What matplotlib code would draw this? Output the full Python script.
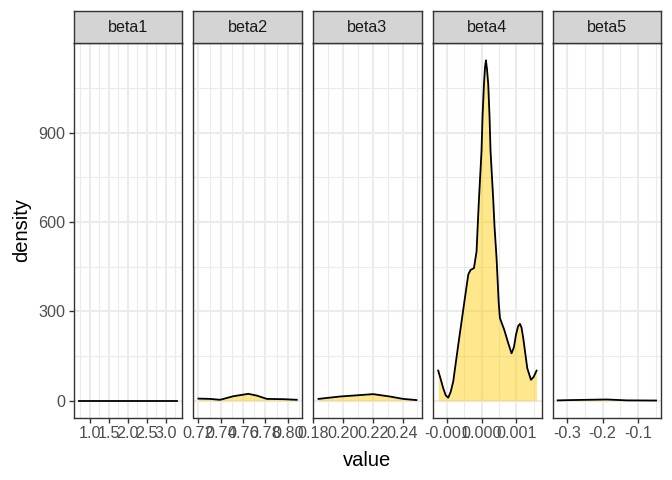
import numpy as np
import matplotlib
matplotlib.use("Agg")
import matplotlib.pyplot as plt
from matplotlib.ticker import FixedLocator, FixedFormatter

plt.rcParams['font.family'] = ['Liberation Sans', 'DejaVu Sans']
plt.rcParams['axes.unicode_minus'] = False

# density curves, one per parameter
panels = ["beta1", "beta2", "beta3", "beta4", "beta5"]

beta1_x = [0.71, 1.2, 1.8, 2.4, 3.0, 3.31]
beta1_y = [0.4, 0.4, 0.4, 0.4, 0.4, 0.4]

beta2_x = [0.720, 0.7305, 0.7394, 0.7513, 0.7647, 0.7723, 0.7812, 0.7961, 0.808]
beta2_y = [7, 6, 3, 15, 23, 17, 6, 5, 3]

beta3_x = [0.1834, 0.1979, 0.2091, 0.2202, 0.2314, 0.2403, 0.2493]
beta3_y = [6, 14, 18, 22, 14, 6, 2]

beta4_x = [-1.257e-3, -1.185e-3, -1.113e-3, -1.040e-3, -0.968e-3, -0.896e-3,
           -0.824e-3, -0.679e-3, -0.535e-3,
           -0.390e-3, -0.324e-3, -0.225e-3, -0.150e-3, -0.116e-3, -0.081e-3,
           -0.006e-3, 0.023e-3, 0.064e-3, 0.095e-3, 0.121e-3, 0.150e-3,
           0.188e-3, 0.225e-3,
           0.254e-3, 0.332e-3, 0.370e-3, 0.428e-3, 0.490e-3, 0.526e-3, 0.650e-3,
           0.760e-3, 0.861e-3, 0.930e-3, 0.988e-3, 1.050e-3, 1.104e-3, 1.150e-3,
           1.199e-3, 1.315e-3, 1.422e-3, 1.500e-3, 1.584e-3]
beta4_y = [101, 72, 42, 18, 10, 30,
           64, 187, 305,
           423, 439, 445, 501, 588, 675,
           839, 955, 1062, 1120, 1143, 1115,
           1062, 955,
           839, 675, 583, 479, 330, 277, 238,
           195, 159, 180, 221, 250, 258, 245,
           210, 109, 70, 80, 101]

beta5_x = [-0.326, -0.291, -0.240, -0.188, -0.132, -0.050]
beta5_y = [1, 2, 3, 4, 1, 0.5]

curves_x = [beta1_x, beta2_x, beta3_x, beta4_x, beta5_x]
curves_y = [beta1_y, beta2_y, beta3_y, beta4_y, beta5_y]

# tick labels per panel
major_ticks = [[1.0, 1.5, 2.0, 2.5, 3.0],
               [0.72, 0.74, 0.76, 0.78, 0.80],
               [0.18, 0.20, 0.22, 0.24],
               [-0.001, 0.000, 0.001],
               [-0.3, -0.2, -0.1]]
tick_labels = [["1.0", "1.5", "2.0", "2.5", "3.0"],
               ["0.72", "0.74", "0.76", "0.78", "0.80"],
               ["0.18", "0.20", "0.22", "0.24"],
               ["-0.001", "0.000", "0.001"],
               ["-0.3", "-0.2", "-0.1"]]
minor_ticks = [[0.75, 1.25, 1.75, 2.25, 2.75, 3.25],
               [0.73, 0.75, 0.77, 0.79, 0.81],
               [0.19, 0.21, 0.23, 0.25],
               [-0.0015, -0.0005, 0.0005, 0.0015],
               [-0.25, -0.15, -0.05]]

y_major = [0, 300, 600, 900]
y_minor = [150, 450, 750, 1050]

W, H = 672, 480
fig = plt.figure(figsize=(6.72, 4.8), dpi=100)

lefts = [74, 193.5, 313.3, 433.3, 552.8]
pw = 108.2
top, bottom, strip_top = 43.3, 417.7, 11

fill_col = (1.0, 0.80, 0.0, 0.45)
grid_col = "#EBEBEB"
border_col = "#333333"
text_col = "#4D4D4D"

ymax = max(max(y) for y in curves_y)
ylim = (-0.05 * ymax, 1.05 * ymax)

for i, name in enumerate(panels):
    x = np.array(curves_x[i])
    y = np.array(curves_y[i])
    ax = fig.add_axes([lefts[i] / W, 1 - bottom / H, pw / W, (bottom - top) / H])
    span = x.max() - x.min()
    ax.set_xlim(x.min() - 0.05 * span, x.max() + 0.05 * span)
    if i == 2:
        ax.set_xlim(0.1799, 0.2527)
    ax.set_ylim(*ylim)

    for v in minor_ticks[i]:
        ax.axvline(v, color=grid_col, lw=0.8, zorder=0)
    for v in major_ticks[i]:
        ax.axvline(v, color=grid_col, lw=1.5, zorder=0)
    for v in y_minor:
        ax.axhline(v, color=grid_col, lw=0.8, zorder=0)
    for v in y_major:
        ax.axhline(v, color=grid_col, lw=1.5, zorder=0)

    ax.fill_between(x, 0, y, color=fill_col, lw=0, zorder=1)
    ax.plot(x, y, color="black", lw=1.3, zorder=2, solid_joinstyle="round")

    ax.xaxis.set_major_locator(FixedLocator(major_ticks[i]))
    ax.xaxis.set_major_formatter(FixedFormatter(tick_labels[i]))
    ax.yaxis.set_major_locator(FixedLocator(y_major))
    ax.tick_params(axis="both", length=3.6, width=1.0, color=border_col,
                   labelsize=11.6, labelcolor=text_col, pad=2.5)
    if i == 0:
        ax.set_yticklabels([str(v) for v in y_major])
        ax.set_ylabel("density", fontsize=14.5, color="black", labelpad=5)
    else:
        ax.tick_params(axis="y", left=False, labelleft=False)
    for s in ax.spines.values():
        s.set_color(border_col)
        s.set_linewidth(1.0)
    ax.set_facecolor("white")

    sax = fig.add_axes([lefts[i] / W, 1 - top / H, pw / W, (top - strip_top) / H])
    sax.set_facecolor("#D4D4D4")
    sax.set_xticks([])
    sax.set_yticks([])
    for s in sax.spines.values():
        s.set_color(border_col)
        s.set_linewidth(1.0)
    sax.text(0.5, 0.5, name, ha="center", va="center", fontsize=11.6,
             color="#1A1A1A", transform=sax.transAxes)

fig.text((lefts[0] + lefts[-1] + pw) / 2 / W, 1 - 460 / H, "value",
         ha="center", va="center", fontsize=14.5)

fig.savefig("out.png", dpi=100)
